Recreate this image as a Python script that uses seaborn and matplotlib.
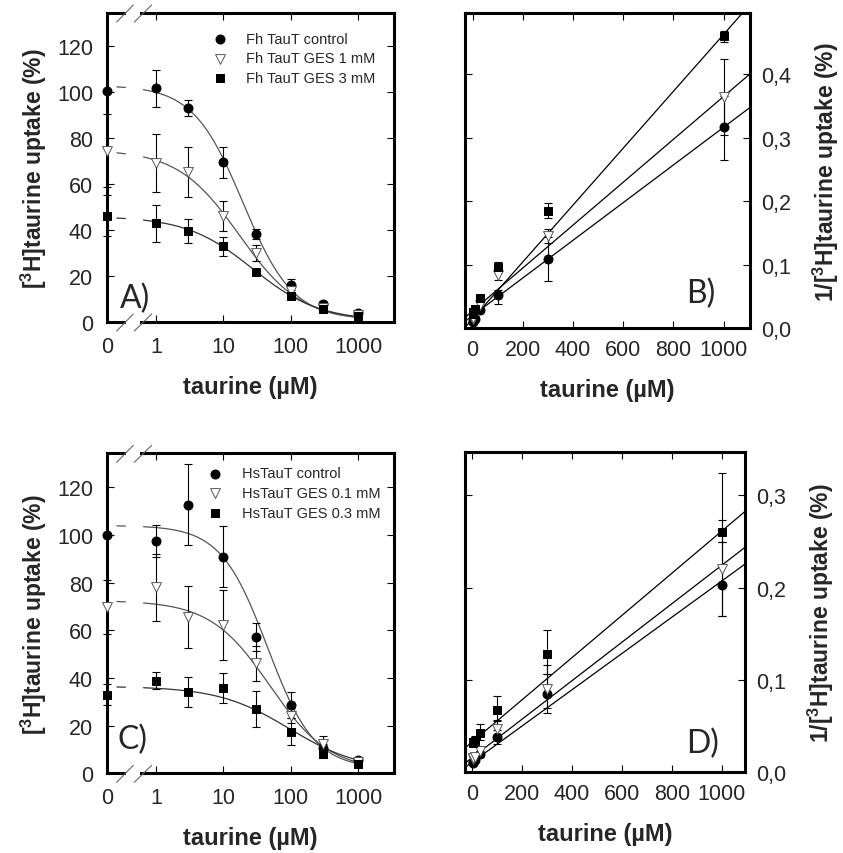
import numpy as np
import pandas as pd
import matplotlib
matplotlib.use("Agg")
import matplotlib.pyplot as plt
import seaborn as sns
from matplotlib.ticker import FuncFormatter

# ---------------- data ----------------
CONC = [0, 1, 3, 10, 30, 100, 300, 1000]          # taurine (uM), panels A and C
CONC_RECIP = [1, 3, 10, 30, 100, 300, 1000]       # panels B and D

# A) Fh TauT, uptake (%)
A_CONTROL = [100.4, 101.8, 93.2, 69.5, 38.3, 16.3, 7.7, 3.8]
A_CONTROL_ERR = [0, 8, 3.6, 6.8, 2.3, 2.2, 1.5, 1]
A_GES1 = [74.6, 69.1, 65.2, 46.3, 30.0, 13.5, 6.3, 3.0]
A_GES1_ERR = [16, 12.7, 11, 6.5, 3.5, 2, 1, 1]
A_GES3 = [46.3, 42.9, 39.7, 32.9, 21.8, 11.3, 5.5, 2.6]
A_GES3_ERR = [9, 8, 5.3, 4.3, 1, 1.5, 1, 1]
# fitted curves: top, bottom, IC50, hill
A_FIT = {"control": (103, 1.0, 19.5, 1.17), "ges1": (75, 0.5, 17.3, 0.95), "ges3": (46, 0.5, 27.0, 0.88)}

# C) HsTauT, uptake (%)
C_CONTROL = [100, 97.3, 112.7, 90.9, 57.3, 28.7, 10.5, 5.6]
C_CONTROL_ERR = [0, 6.7, 17, 12.7, 5.8, 5.3, 2, 1]
C_GES01 = [69.7, 78.0, 65.5, 62.2, 46.2, 24.2, 12.3, 4.6]
C_GES01_ERR = [11.3, 14, 13, 14.7, 7.3, 3, 3.5, 1]
C_GES03 = [33.0, 38.9, 34.3, 35.7, 27.0, 17.5, 8.1, 3.9]
C_GES03_ERR = [4.5, 3.7, 6.3, 6.3, 7.7, 5.5, 1.5, 1]
C_FIT = {"control": (104, 2.0, 45.0, 1.25), "ges01": (72.5, 1.0, 49.0, 0.98), "ges03": (36.5, 1.0, 95.0, 0.82)}

# B) 1/uptake, Fh TauT
B_CONTROL = [0.010, 0.011, 0.015, 0.028, 0.052, 0.109, 0.316]
B_CONTROL_LO = [0.001, 0.001, 0.002, 0.003, 0.014, 0.034, 0.051]
B_CONTROL_HI = [0.001, 0.001, 0.002, 0.003, 0.008, 0.034, 0.050]
B_GES1 = [0.015, 0.016, 0.022, 0.036, 0.084, 0.145, 0.363]
B_GES1_LO = [0.002, 0.002, 0.003, 0.004, 0.008, 0.011, 0.059]
B_GES1_HI = [0.003, 0.003, 0.003, 0.005, 0.010, 0.011, 0.061]
B_GES3 = [0.023, 0.025, 0.031, 0.048, 0.096, 0.185, 0.459]
B_GES3_LO = [0.003, 0.003, 0.003, 0.005, 0.008, 0.012, 0.009]
B_GES3_HI = [0.004, 0.003, 0.004, 0.005, 0.008, 0.012, 0.009]
# linear fits: intercept, slope
B_FIT = {"control": (0.020, 0.000296), "ges1": (0.0275, 0.000337), "ges3": (0.015, 0.000447)}

# D) 1/uptake, HsTauT
D_CONTROL = [0.010, 0.011, 0.013, 0.020, 0.038, 0.085, 0.203]
D_CONTROL_LO = [0.001, 0.002, 0.002, 0.003, 0.007, 0.021, 0.034]
D_CONTROL_HI = [0.001, 0.002, 0.002, 0.003, 0.008, 0.021, 0.046]
D_GES01 = [0.014, 0.015, 0.017, 0.023, 0.047, 0.090, 0.220]
D_GES01_LO = [0.002, 0.002, 0.003, 0.004, 0.008, 0.020, 0.051]
D_GES01_HI = [0.003, 0.003, 0.004, 0.005, 0.010, 0.026, 0.104]
D_GES03 = [0.032, 0.033, 0.034, 0.043, 0.067, 0.128, 0.260]
D_GES03_LO = [0.003, 0.004, 0.004, 0.008, 0.012, 0.022, 0.011]
D_GES03_HI = [0.004, 0.004, 0.005, 0.009, 0.016, 0.026, 0.013]
D_FIT = {"control": (0.011, 0.000196), "ges01": (0.016, 0.000208), "ges03": (0.033, 0.000228)}

A_LABELS = ["Fh TauT control", "Fh TauT GES 1 mM", "Fh TauT GES 3 mM"]
C_LABELS = ["HsTauT control", "HsTauT GES 0.1 mM", "HsTauT GES 0.3 mM"]

# ---------------- style ----------------
sns.set_theme(style="ticks")
plt.rcParams["font.family"] = ["Liberation Sans", "DejaVu Sans"]
plt.rcParams["mathtext.fontset"] = "custom"
plt.rcParams["mathtext.rm"] = "Liberation Sans"
plt.rcParams["mathtext.bf"] = "Liberation Sans:bold"
plt.rcParams["axes.linewidth"] = 2.2
plt.rcParams["axes.edgecolor"] = "black"

W_PX, H_PX = 843, 854
fig = plt.figure(figsize=(W_PX / 100, H_PX / 100), dpi=100)
fig.patch.set_facecolor("white")


def axes_px(left, top, right, bottom):
    return fig.add_axes([left / W_PX, 1 - bottom / H_PX, (right - left) / W_PX, (bottom - top) / H_PX])


axA = axes_px(107, 14, 394, 323)
axB = axes_px(465, 14.3, 750, 329.3)
axC = axes_px(107, 454.3, 394, 774.3)
axD = axes_px(465, 452.7, 745, 773.3)

X0 = 10 ** -0.727            # where "0" sits on the broken log axis
XMAX = 10 ** 3.531

STYLES = [
    dict(marker="o", color="black", edgecolor="black", s=42),
    dict(marker="v", color="white", edgecolor="#555555", s=50),
    dict(marker="s", color="black", edgecolor="black", s=38),
]

TICK_SIZE = 15.5
LETTER_KW = dict(fontsize=23, family=["Lato", "DejaVu Sans"], va="bottom", ha="left")
UPTAKE_LABEL = r"[$\mathbf{^{3}}$H]taurine uptake (%)"


def errbars(ax, x, y, lo, hi):
    cont = ax.errorbar(x, y, yerr=[lo, hi], fmt="none", ecolor="black",
                       elinewidth=0.8, capsize=3, capthick=0.8, zorder=2)
    for art in cont.lines[1] + cont.lines[2]:
        art.set_clip_on(False)


def logistic(x, p):
    top, bottom, ic50, h = p
    return bottom + (top - bottom) / (1 + (x / ic50) ** h)


def break_marks(ax, left_px, width_px, height_px):
    # gap in top/bottom spine plus two slashes
    g0, g1 = (126 - left_px) / width_px, (140 - left_px) / width_px
    for yy in (0, 1):
        ax.plot([g0, g1], [yy, yy], transform=ax.transAxes, color="white",
                lw=4, clip_on=False, zorder=10, solid_capstyle="butt")
        for xs in ((116.7, 133.3), (134.3, 151.7)):
            ax.plot([(xs[0] - left_px) / width_px, (xs[1] - left_px) / width_px],
                    [yy - 9 / height_px, yy + 8 / height_px], transform=ax.transAxes,
                    color="#666666", lw=0.8, clip_on=False, zorder=11)


def sigmoid_panel(ax, series, errs, fits, labels, letter, legend_xy, box):
    ax.set_xscale("log")
    x_pts = [X0] + CONC[1:]
    xs = np.logspace(-0.58, 3.0, 400)
    seg = np.where(np.log10(xs) < -0.45, 0, np.where(np.log10(xs) > -0.19, 1, -1))
    for fit, col in zip(fits, ["#555555", "#555555", "#333333"]):
        df = pd.DataFrame({"x": xs, "y": logistic(xs, fit), "seg": seg})
        df = df[df.seg >= 0]
        sns.lineplot(data=df, x="x", y="y", units="seg", estimator=None,
                     color=col, lw=0.9, ax=ax, zorder=1)
    for y, e in zip(series, errs):
        errbars(ax, x_pts, y, e, e)
    for y, st, lab in zip(series, STYLES, labels):
        sns.scatterplot(x=x_pts, y=y, ax=ax, label=lab, linewidth=0.7,
                        zorder=4, clip_on=False, **st)
    ax.set_xlim(X0, XMAX)
    ax.set_ylim(0, box[3])
    ax.set_xticks([X0, 1, 10, 100, 1000])
    ax.set_xticklabels(["0", "1", "10", "100", "1000"])
    ax.xaxis.set_minor_locator(matplotlib.ticker.NullLocator())
    ax.set_yticks(range(0, 121, 20))
    ax.tick_params(axis="both", which="both", direction="in", top=True, right=True,
                   length=5, width=0.8, labelsize=TICK_SIZE, pad=10, color="black")
    ax.set_xlabel("taurine (µM)", labelpad=13, fontsize=17, fontweight="bold")
    ax.set_ylabel(UPTAKE_LABEL, labelpad=6, fontsize=16.5, fontweight="bold")
    ax.legend(loc="upper left", bbox_to_anchor=legend_xy, frameon=False, fontsize=10.5,
              handlelength=1.0, handletextpad=1.3, labelspacing=0.38,
              borderaxespad=0, borderpad=0)
    ax.text(letter[1], letter[2], letter[0], transform=ax.transAxes, **LETTER_KW)
    break_marks(ax, box[0], box[1], box[2])


def linear_panel(ax, series, los, his, fits, xlim, ylim, yticks, letter):
    xs = np.linspace(xlim[0], xlim[1], 50)
    for fit in fits:
        sns.lineplot(x=xs, y=fit[0] + fit[1] * xs, color="black", lw=0.9, ax=ax, zorder=1)
    for y, lo, hi in zip(series, los, his):
        errbars(ax, CONC_RECIP, y, lo, hi)
    for y, st in zip(series, STYLES):
        sns.scatterplot(x=CONC_RECIP, y=y, ax=ax, linewidth=0.7, zorder=4, **st)
    ax.set_xlim(*xlim)
    ax.set_ylim(*ylim)
    ax.set_xticks(range(0, 1001, 200))
    ax.set_yticks(yticks)
    ax.yaxis.set_major_formatter(FuncFormatter(lambda v, p: f"{v:.1f}".replace(".", ",")))
    ax.tick_params(axis="both", direction="in", top=True, right=True, left=True,
                   labelleft=False, labelright=True, length=5, width=0.8,
                   labelsize=TICK_SIZE, pad=8, color="black")
    ax.yaxis.set_label_position("right")
    ax.set_xlabel("taurine (µM)", labelpad=13, fontsize=17, fontweight="bold")
    ax.set_ylabel("1/" + UPTAKE_LABEL, labelpad=14, fontsize=16.5, fontweight="bold")
    ax.text(letter[1], letter[2], letter[0], transform=ax.transAxes, **LETTER_KW)


sigmoid_panel(axA, [A_CONTROL, A_GES1, A_GES3], [A_CONTROL_ERR, A_GES1_ERR, A_GES3_ERR],
              [A_FIT["control"], A_FIT["ges1"], A_FIT["ges3"]], A_LABELS,
              ("A)", 0.045, 0.03), (0.369, 0.939), (107, 287, 309, 134.5))
sigmoid_panel(axC, [C_CONTROL, C_GES01, C_GES03], [C_CONTROL_ERR, C_GES01_ERR, C_GES03_ERR],
              [C_FIT["control"], C_FIT["ges01"], C_FIT["ges03"]], C_LABELS,
              ("C)", 0.038, 0.06), (0.352, 0.959), (107, 287, 320, 134.3))
linear_panel(axB, [B_CONTROL, B_GES1, B_GES3], [B_CONTROL_LO, B_GES1_LO, B_GES3_LO],
             [B_CONTROL_HI, B_GES1_HI, B_GES3_HI],
             [B_FIT["control"], B_FIT["ges1"], B_FIT["ges3"]],
             (-30.6, 1105.6), (0, 0.4954), [0, 0.1, 0.2, 0.3, 0.4], ("B)", 0.775, 0.065))
linear_panel(axD, [D_CONTROL, D_GES01, D_GES03], [D_CONTROL_LO, D_GES01_LO, D_GES03_LO],
             [D_CONTROL_HI, D_GES01_HI, D_GES03_HI],
             [D_FIT["control"], D_FIT["ges01"], D_FIT["ges03"]],
             (-29.4, 1093.6), (0, 0.347), [0, 0.1, 0.2, 0.3], ("D)", 0.79, 0.045))

fig.savefig("out.png", dpi=100, facecolor="white")
